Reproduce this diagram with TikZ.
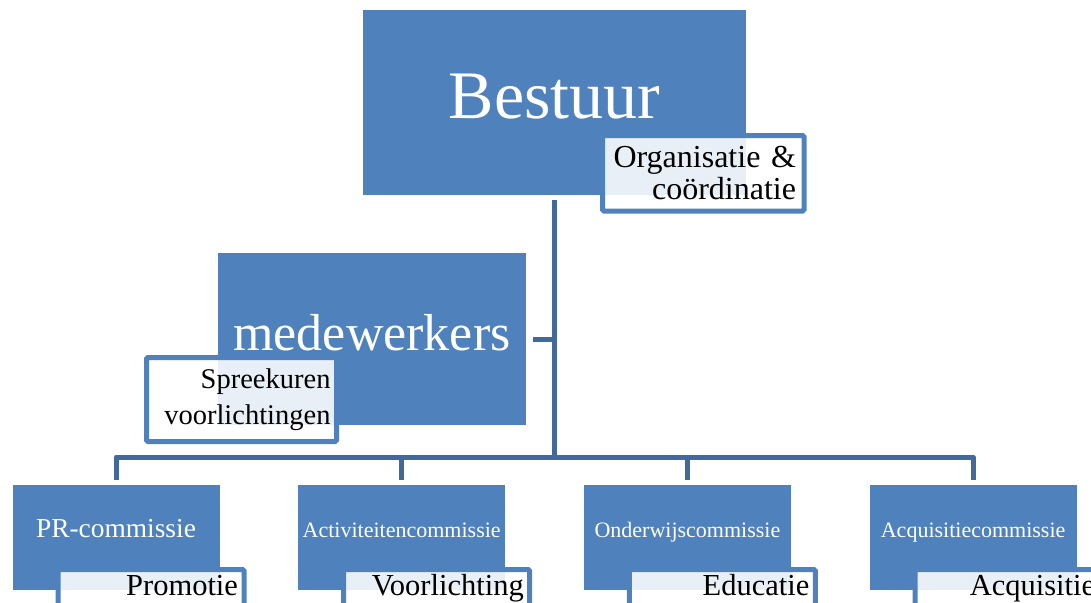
\documentclass[tikz,border=0pt]{standalone}
\usepackage{fontspec}
\setmainfont{Liberation Serif}
\usetikzlibrary{positioning}
\definecolor{boxblue}{HTML}{4F81BD}
\definecolor{lineblue}{HTML}{41699B}
\tikzstyle{mainbox}=[fill=boxblue,text=white,inner sep=0pt,outer sep=0pt]
\tikzstyle{botbox}=[mainbox,minimum width=207pt,minimum height=105pt,text height=15pt,text depth=15pt,font=\fontsize{22}{26}\selectfont]
\tikzstyle{subbox}=[draw=boxblue,line width=5pt,rounded corners=1.5pt,fill=white,fill opacity=0.88,text opacity=1,align=right,inner xsep=6pt,outer sep=0pt]
\tikzstyle{botsub}=[subbox,anchor=north east,text width=174pt,inner ysep=5pt,text height=21pt,text depth=40pt,font=\fontsize{30.5}{34}\selectfont]
\tikzstyle{link}=[draw=lineblue,line width=5pt,line join=round]
\begin{document}
\begin{tikzpicture}[x=1pt,y=-1pt]
\useasboundingbox (0,0) rectangle (1091,602);
\clip (0,0) rectangle (1091,602);
% top of the chart
\node [mainbox,anchor=north west,minimum width=383pt,minimum height=185pt,text height=48pt,text depth=17pt,font=\fontsize{68}{80}\selectfont] (bestuur) at (363,10) {Bestuur};
\node [subbox,anchor=north east,inner xsep=8pt,text width=185.5pt,minimum height=75.5pt,font=\fontsize{32}{32}\selectfont] (bestuursub) at ([xshift=58pt,yshift=-125.5pt]bestuur.north east) {Organisatie \&\\coördinatie};
% assistant
\node [mainbox,anchor=north west,minimum width=308pt,minimum height=172pt,text height=36pt,text depth=13pt,font=\fontsize{52}{60}\selectfont] (mede) at (218,253) {medewerkers};
\node [subbox,anchor=north west,text width=178pt,minimum height=84pt,font=\fontsize{28.5}{36.5}\selectfont] (medesub) at ([xshift=-71.5pt,yshift=-104.5pt]mede.north west) {Spreekuren\\voorlichtingen};
% committees
\node [botbox,anchor=north west,font=\fontsize{27.4}{30}\selectfont] (pr) at (12.5,485) {PR-commissie};
\node [botbox,right=78.7pt of pr] (act) {Activiteitencommissie};
\node [botbox,right=78.7pt of act] (ond) {Onderwijscommissie};
\node [botbox,right=78.7pt of ond] (acq) {Acquisitiecommissie};
\node [botsub] (prsub) at ([xshift=24.5pt,yshift=-84.5pt]pr.north east) {Promotie};
\node [botsub] (actsub) at ([xshift=24.5pt,yshift=-84.5pt]act.north east) {Voorlichting};
\node [botsub] (ondsub) at ([xshift=24.5pt,yshift=-84.5pt]ond.north east) {Educatie};
\node [botsub] (acqsub) at ([xshift=24.5pt,yshift=-84.5pt]acq.north east) {Acquisitie};
% connectors
\coordinate (bus) at (554.5,457);
\draw [link] ([yshift=-5pt]bestuur.south) -- (bus);
\draw [link] ([xshift=7pt]mede.east) -- (mede.east -| bus);
\draw [link] ([yshift=5pt]pr.north) |- (bus) -| ([yshift=5pt]acq.north);
\draw [link] ([yshift=5pt]act.north) -- (act.north |- bus);
\draw [link] ([yshift=5pt]ond.north) -- (ond.north |- bus);
\end{tikzpicture}
\end{document}
